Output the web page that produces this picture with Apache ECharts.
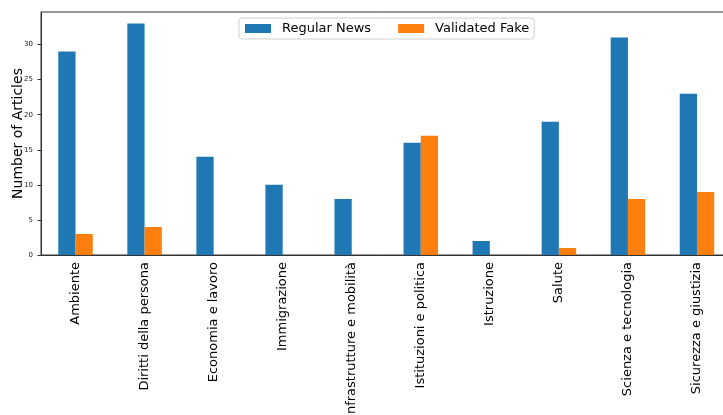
<!DOCTYPE html>
<html><head><meta charset="utf-8">
<script src="https://cdn.jsdelivr.net/npm/echarts@6/dist/echarts.min.js"></script>
<style>html,body{margin:0;padding:0;background:#fff}#c{width:723px;height:415px}</style>
</head><body><div id="c"></div>
<script>
const categories = ['Ambiente','Diritti della persona','Economia e lavoro','Immigrazione','Infrastrutture e mobilità','Istituzioni e politica','Istruzione','Salute','Scienza e tecnologia','Sicurezza e giustizia'];
const regularNews = [29,33,14,10,8,16,2,19,31,23];
const validatedFake = [3,4,0,0,0,17,0,1,8,9];
const yTicks = [0,5,10,15,20,25,30];
const seriesNames = ['Regular News','Validated Fake'];
const font = 'DejaVu Sans';
const chart = echarts.init(document.getElementById('c'));
chart.setOption({
  animation:false,
  textStyle:{fontFamily:font},
  grid:{left:41, right:-8.5, top:12, bottom:160, show:true, borderColor:'#333', borderWidth:1, backgroundColor:'transparent', containLabel:false, outerBoundsMode:'none'},
  legend:{
    data:seriesNames, left:239, top:18, orient:'horizontal',
    icon:'rect', itemWidth:26, itemHeight:9, itemGap:27,
    padding:[4,5,4,6], borderColor:'#d0d0d0', borderWidth:1, borderRadius:3,
    backgroundColor:'rgba(255,255,255,0.8)',
    textStyle:{fontSize:13, color:'#000', fontFamily:font, padding:[0,0,0,6]}
  },
  xAxis:{
    type:'category', data:categories, boundaryGap:true,
    axisLine:{lineStyle:{color:'#333', width:1}},
    axisTick:{alignWithLabel:true, length:3.5, lineStyle:{color:'#333'}},
    axisLabel:{rotate:90, fontSize:13, color:'#000', margin:7, interval:0, fontFamily:font},
    splitLine:{show:false}
  },
  yAxis:{
    type:'value', min:0, max:34.65,
    name:'Number of Articles', nameLocation:'middle', nameGap:16, nameMoveOverlap:false,
    nameTextStyle:{fontSize:14, color:'#000', fontFamily:font},
    axisLine:{show:true, lineStyle:{color:'#333', width:1}},
    axisTick:{show:true, length:3.5, customValues:yTicks, lineStyle:{color:'#333'}},
    axisLabel:{customValues:yTicks, fontSize:7, color:'#222', margin:8, fontFamily:font},
    splitLine:{show:false}
  },
  series:[
    {name:seriesNames[0], type:'bar', data:regularNews, barWidth:17.25, barGap:'0%', itemStyle:{color:'#1f77b4'}},
    {name:seriesNames[1], type:'bar', data:validatedFake, barWidth:17.25, barGap:'0%', itemStyle:{color:'#ff7f0e'}}
  ]
});
</script></body></html>
